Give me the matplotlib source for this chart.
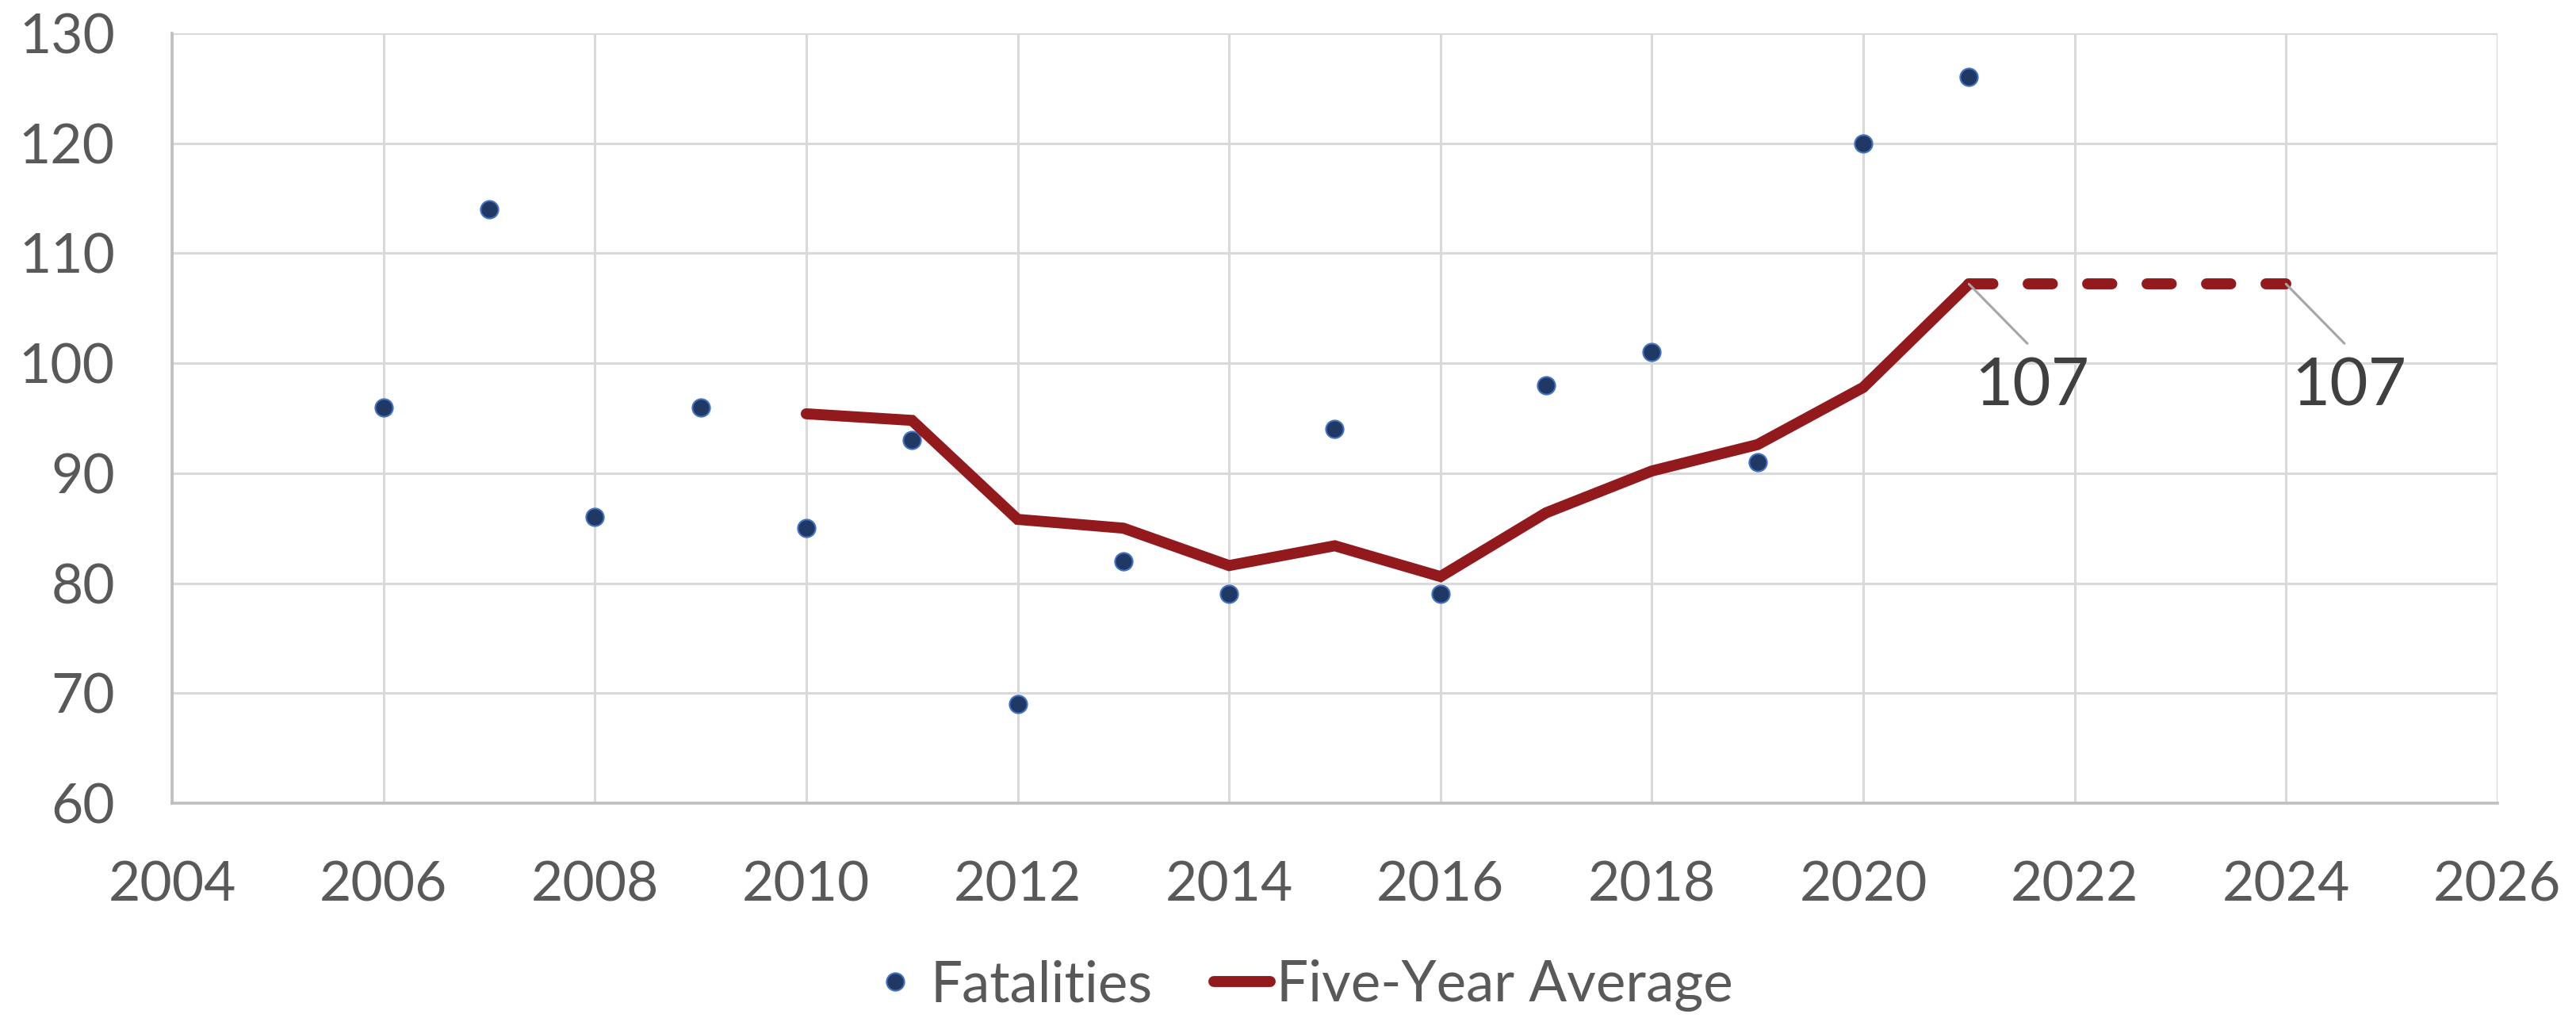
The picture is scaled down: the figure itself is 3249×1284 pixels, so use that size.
import matplotlib
matplotlib.use("Agg")
import matplotlib.pyplot as plt

# ---- data ----
years = [2006, 2007, 2008, 2009, 2010, 2011, 2012, 2013, 2014, 2015,
         2016, 2017, 2018, 2019, 2020, 2021]
fatalities = [96, 114, 86, 96, 85, 93, 69, 82, 79, 94, 79, 98, 101, 91, 120, 126]

avg_years = [2010, 2011, 2012, 2013, 2014, 2015, 2016, 2017, 2018, 2019, 2020, 2021]
five_year_avg = [95.4, 94.8, 85.8, 85.0, 81.6, 83.4, 80.6, 86.4, 90.2, 92.6, 97.8, 107.2]

proj_years = [2021, 2024]
proj_values = [107.2, 107.2]
proj_labels = ["107", "107"]

x_ticks = list(range(2004, 2027, 2))
y_ticks = list(range(60, 131, 10))

# ---- style ----
plt.rcParams['font.family'] = ['Lato', 'DejaVu Sans']
TICK_COLOR = '#595959'
GRID_COLOR = '#D9D9D9'
AXIS_COLOR = '#BFBFBF'
RED = '#921A1D'

fig = plt.figure(figsize=(32.49, 12.84), dpi=100)
ax = fig.add_axes([0.0668, 0.2111, 0.9027, 0.7562])

ax.set_xlim(2004, 2026)
ax.set_ylim(60, 130)
ax.set_xticks(x_ticks)
ax.set_yticks(y_ticks)
ax.grid(True, color=GRID_COLOR, linewidth=2.2, zorder=0)
ax.set_axisbelow(True)
for s in ['top', 'right']:
    ax.spines[s].set_visible(False)
for s in ['left', 'bottom']:
    ax.spines[s].set_color(AXIS_COLOR)
    ax.spines[s].set_linewidth(2.6)
ax.tick_params(axis='both', length=0, labelsize=50, labelcolor=TICK_COLOR)
ax.tick_params(axis='x', pad=52)
ax.tick_params(axis='y', pad=52)

ax.plot(years, fatalities, linestyle='none', marker='o', markersize=16,
        markerfacecolor='#203864', markeredgecolor='#4472C4',
        markeredgewidth=1.5, label='Fatalities', zorder=3, clip_on=False)

ax.plot(avg_years, five_year_avg, color=RED, linewidth=10,
        solid_capstyle='round', solid_joinstyle='miter',
        label='Five-Year Average', zorder=4)

ax.plot(proj_years, proj_values, color=RED, linewidth=10,
        linestyle=(0, (2.2, 3.2)), dash_capstyle='round', zorder=4)

for xv, yv, lab in zip(proj_years, proj_values, proj_labels):
    ax.annotate('', xy=(xv, yv), xytext=(53, -54), textcoords='offset points',
                arrowprops=dict(arrowstyle='-', color='#A6A6A6', lw=2.2,
                                shrinkA=0, shrinkB=0), zorder=5)
    ax.annotate(lab, xy=(xv, yv), xytext=(57, -94), textcoords='offset points',
                ha='center', va='center', fontsize=60, color='#404040', zorder=5)

leg = fig.legend(loc='center', bbox_to_anchor=(1640 / 3249, 1 - 1243 / 1284),
                 ncol=2, frameon=False, fontsize=51, handlelength=1.0,
                 handletextpad=0.12, columnspacing=1.1, labelcolor=TICK_COLOR)

fig.savefig('out.png', dpi=100)
